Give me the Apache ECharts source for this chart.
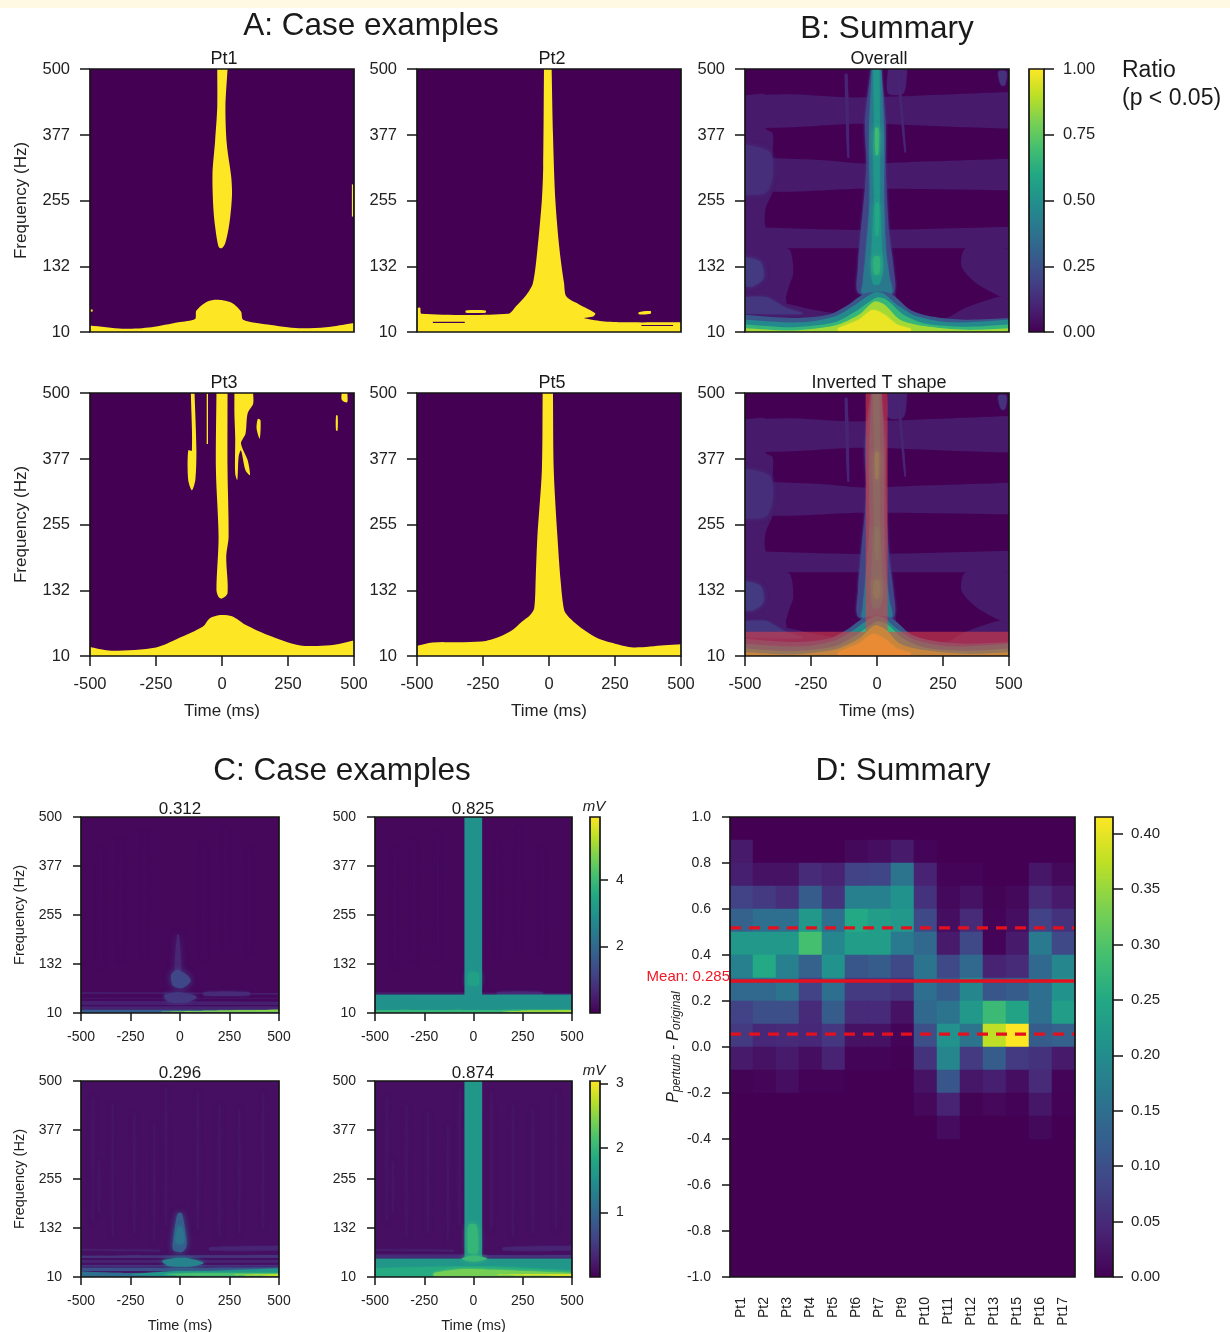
<!DOCTYPE html>
<html><head><meta charset="utf-8">
<script src="https://cdn.jsdelivr.net/npm/echarts@6/dist/echarts.min.js"></script>
<style>html,body{margin:0;padding:0;background:#fff}#c{width:1230px;height:1332px;filter:blur(.45px)}</style>
</head><body><div id="c"></div>
<script>
/* ---------- tick labels and categories ---------- */
const freqTicks = [10, 132, 255, 377, 500];
const ratioTicks = [0, 0.25, 0.5, 0.75, 1];
const patients = ['Pt1','Pt2','Pt3','Pt4','Pt5','Pt6','Pt7','Pt9','Pt10','Pt11','Pt12','Pt13','Pt15','Pt16','Pt17'];
const diffBins = ['-1.0','-0.9','-0.8','-0.7','-0.6','-0.5','-0.4','-0.3','-0.2','-0.1','0.0','0.1','0.2','0.3','0.4','0.5','0.6','0.7','0.8','0.9'];
const meanLine = 0.287, upperLine = 0.518, lowerLine = 0.056;

/* ---------- panel D cells: row name = lower edge of the bin ---------- */
const rowP08 = [.03,0,0,0,0,.01,.015,.03,.005,0,0,0,0,0,0];
const rowP07 = [.035,.02,.02,.05,.04,.08,.085,.16,.04,.005,.005,0,0,.025,.01];
const rowP06 = [.08,.07,.055,.12,.06,.18,.18,.21,.06,.01,.02,.003,.01,.05,.03];
const rowP05 = [.13,.15,.15,.22,.15,.25,.23,.22,.09,.015,.05,.005,.015,.08,.06];
const rowP04 = [.22,.22,.22,.29,.19,.23,.23,.17,.14,.03,.09,.005,.03,.17,.09];
const rowP03 = [.18,.25,.18,.13,.21,.11,.12,.09,.16,.09,.14,.04,.05,.14,.19];
const rowP02 = [.14,.14,.16,.08,.15,.07,.07,.06,.15,.12,.19,.11,.12,.15,.21];
const rowP01 = [.08,.1,.1,.05,.12,.05,.05,.02,.14,.16,.22,.28,.24,.15,.23];
const rowP00 = [.07,.045,.05,.045,.065,.02,.02,.005,.1,.21,.16,.375,.415,.12,.13];
const rowM01 = [.03,.02,.03,.015,.04,.005,.005,.001,.06,.19,.07,.12,.07,.06,.03];
const rowM02 = [.003,.006,.015,.002,.002,0,0,0,.02,.11,.025,.035,.015,.05,.005];
const rowM03 = [0,0,0,0,0,0,0,0,.008,.04,.003,.008,.002,.025,.002];
const rowM04 = [0,0,0,0,0,0,0,0,0,.012,0,0,0,.01,0];
const diffRows = {'0.8':rowP08,'0.7':rowP07,'0.6':rowP06,'0.5':rowP05,'0.4':rowP04,'0.3':rowP03,'0.2':rowP02,'0.1':rowP01,'0.0':rowP00,'-0.1':rowM01,'-0.2':rowM02,'-0.3':rowM03,'-0.4':rowM04};

/* ---------- panel A significant regions, [ms, Hz] ---------- */
const pt1Stripe = [[-18,500],[-18,429],[-26,367],[-36,305],[-33,243],[-26,206],[-13,169],[-1,166],[12,175],[26,206],[35,243],[38,270],[35,299],[18,361],[13,429],[21,500]];
const pt1Bump = [[-500,22],[-376,16],[-267,19],[-165,28],[-102,34],[-97,50],[-55,67],[-13,70],[38,64],[72,48],[80,33],[173,24],[292,17],[393,19],[500,27],[500,10],[-500,10]];
const pt1Speck = [[-500,52],[-490,52],[-490,48],[-500,48]];
const pt1Edge = [[492,285],[497,285],[497,225],[492,225]];
const pt2Body = [[-500,10],[-500,55],[-488,55],[-483,44],[-154,44],[-125,58],[-86,79],[-61,101],[-44,163],[-27,256],[-22,317],[-19,500],[10,500],[15,379],[24,256],[40,163],[57,101],[66,76],[116,61],[175,45],[167,39],[133,36],[201,30],[285,28],[500,28],[500,10]];
const pt2Holes = [[[-440,29],[-319,29],[-319,27],[-440,27]],[[350,23],[470,23],[470,21],[350,21]]];
const pt2Specks = [[[-315,50],[-240,50],[-240,46],[-315,46]],[[340,47],[385,49],[385,44],[340,43]]];
const pt3Stripe = [[-21,500],[-23,356],[-13,232],[-21,133],[-13,120],[-1,117],[21,127],[16,195],[25,232],[21,356],[21,500]];
const pt3Left = [[-118,500],[-114,393],[-128,393],[-128,338],[-114,319],[-101,338],[-97,393],[-104,500]];
const pt3Thin = [[-58,499],[-53,499],[-53,405],[-58,405]];
const pt3Blob = [[47,500],[118,500],[118,480],[97,462],[89,424],[72,406],[97,375],[106,347],[89,356],[72,393],[63,381],[58,338],[50,350],[50,418],[47,462]];
const pt3Small = [[131,434],[136,452],[146,449],[143,415]];
const pt3Far = [[432,458],[438,458],[438,430],[432,430]];
const pt3Corner = [[453,500],[475,500],[475,483],[465,483],[453,488]];
const pt3Bump = [[-500,27],[-419,20],[-250,26],[-165,43],[-72,65],[-47,80],[-13,86],[38,84],[89,68],[173,49],[292,30],[410,30],[500,39],[500,10],[-500,10]];
const pt5Body = [[-500,10],[-500,29],[-441,35],[-255,37],[-188,46],[-140,58],[-103,74],[-72,86],[-56,99],[-50,160],[-44,232],[-27,356],[-24,500],[15,500],[18,356],[32,232],[44,150],[57,96],[72,84],[100,71],[140,56],[184,43],[250,33],[319,26],[437,30],[500,32],[500,10]];

/* ---------- panel B ratio contours, [ms, Hz] ---------- */
const sumBand1 = [[-500,451],[-317,453],[-82,447],[500,457],[500,389],[300,392],[-56,398],[-300,392],[-500,389]];
const sumBand2 = [[-500,336],[-200,330],[-56,324],[200,328],[500,333],[500,274],[-56,277],[-300,272],[-500,271]];
const sumBand3 = [[-500,206],[-56,200],[500,206],[500,166],[-500,166]];
const sumLeft = [[-500,451],[-420,451],[-422,389],[-395,380],[-395,336],[-382,300],[-395,271],[-422,240],[-422,206],[-380,170],[-330,163],[-317,120],[-330,100],[-345,75],[-345,60],[-500,60]];
const sumRight = [[336,166],[500,166],[500,70],[467,76],[376,101],[320,132]];
const sumLow = [[-500,85],[-345,63],[-147,45],[-69,60],[-56,85],[-43,100],[62,100],[75,70],[127,45],[258,36],[336,55],[467,76],[500,70],[500,10],[-500,10]];
const sumLeftBlue = [[-500,360],[-405,345],[-395,300],[-420,270],[-500,265]];
const sumLeftBlob = [[-500,150],[-440,140],[-430,110],[-470,95],[-500,95]];
const sumLowBlue = [[-500,75],[-420,75],[-345,55],[-280,44],[-500,44]];
const sumWedge = [[42,500],[114,500],[100,455],[42,455]];
const sumCorner = [[460,495],[490,495],[485,470],[470,470]];
const sumStreakA = [[-122,490],[-112,490],[-105,335],[-112,335]];
const sumStreakB = [[77,490],[85,490],[110,345],[104,345]];
const cone25 = [[-500,42],[-317,36],[-186,42],[-108,61],[-43,82],[49,82],[127,51],[206,39],[336,33],[500,36],[500,10],[-500,10]];
const cone50 = [[-500,33],[-291,28],[-160,39],[-82,61],[-10,84],[23,82],[75,61],[153,39],[284,28],[500,33],[500,10],[-500,10]];
const cone70 = [[-500,24],[-317,19],[-160,28],[-82,48],[-3,74],[36,70],[101,42],[180,26],[336,20],[500,24],[500,10],[-500,10]];
const cone85 = [[-500,17],[-317,13],[-160,22],[-69,42],[-10,67],[29,61],[88,33],[180,21],[336,14],[500,17],[500,10],[-500,10]];
const cone95 = [[-147,17],[-69,33],[-16,51],[29,42],[75,24],[127,16],[127,12],[-147,12]];
const ridgeOuter = [[-23,500],[-46,398],[-40,317],[-62,194],[-72,132],[-69,82],[62,82],[62,132],[46,194],[33,317],[33,398],[16,500]];
const ridgeMid = [[-19,500],[-30,379],[-28,256],[-44,150],[-54,100],[-56,82],[55,82],[47,113],[34,163],[27,256],[27,379],[16,500]];
const ridgeInner = [[-14,500],[-11,390],[-14,330],[-11,250],[-20,170],[-22,125],[-14,100],[9,100],[22,125],[18,170],[11,250],[11,390],[9,500]];
const ridgeHighA = [[-7,390],[-5,340],[4,340],[6,390]];
const ridgeHighB = [[-7,250],[-5,190],[5,190],[7,250]];
const ridgeHighC = [[-12,150],[-10,118],[8,118],[10,150]];
const invertedT = [[-43,500],[40,500],[40,55],[500,55],[500,10],[-500,10],[-500,55],[-43,55]];

/* ---------- panel C amplitude regions, [ms, Hz] ---------- */
const c1BandA = [[-500,62],[500,60],[500,56],[-500,58]];
const c1BandB = [[-500,48],[500,48],[500,45],[-500,45]];
const c1BandC = [[-500,40],[500,38],[500,30],[-500,30]];
const c1BandD = [[-500,26],[500,26],[500,20],[-500,20]];
const c1Floor = [[-500,18],[500,18],[500,10],[-500,10]];
const c1Right = [[-100,13],[500,13],[500,18],[220,16]];
const c1Rise = [[120,62],[350,62],[350,54],[120,54]];
const c1Blob = [[-45,105],[-15,118],[35,105],[55,90],[10,72],[-35,78]];
const c1Plume = [[-25,115],[-15,205],[-5,205],[5,115]];
const c1Lower = [[-80,55],[0,62],[85,50],[30,36],[-60,38]];
const tC2 = [[-46,500],[44,500],[44,56],[500,56],[500,10],[-500,10],[-500,56],[-46,56]];
const c2Blob = [[-25,110],[25,110],[25,80],[-25,80]];
const c2Floor = [[-500,17],[500,18],[500,11],[-500,11]];
const c2Right = [[150,13],[500,12],[500,17],[300,16]];
const c3BandA = [[-500,80],[-100,78],[-100,74],[-500,76]];
const c3BandA2 = [[150,84],[500,88],[500,76],[150,76]];
const c3BandB = [[-500,63],[500,65],[500,58],[-500,58]];
const c3BandC = [[-500,52],[500,52],[500,46],[-500,46]];
const c3BandD = [[-500,40],[500,40],[500,36],[-500,36]];
const c3BandE = [[-500,33],[500,34],[500,25],[-500,25]];
const c3Floor = [[-500,24],[-250,20],[500,18],[500,10],[-500,10]];
const c3Wedge = [[-250,15],[-60,24],[150,25],[500,31],[500,14]];
const c3Bright = [[-80,17],[100,20],[500,20],[500,13],[0,14]];
const c3Tip = [[250,15],[500,17],[500,13]];
const c3Plume = [[-12,169],[10,169],[30,110],[32,85],[8,72],[-35,78],[-32,110]];
const c3PlumeCore = [[-12,135],[10,135],[20,95],[-22,95]];
const c3Lower = [[-90,50],[-30,57],[40,57],[120,45],[50,36],[-60,38]];
const tC4 = [[-46,500],[44,500],[44,56],[500,56],[500,10],[-500,10],[-500,56],[-46,56]];
const c4Base = [[-500,32],[-100,36],[100,36],[500,26],[500,10],[-500,10]];
const c4Wedge = [[-200,20],[-50,30],[100,28],[500,20],[500,12],[-200,12]];
const c4Line = [[100,15],[500,13],[500,17],[300,17]];
const c4Stripe = [[-25,140],[15,140],[25,85],[20,70],[-25,70],[-30,85]];
const c4Junction = [[-60,56],[0,64],[70,56],[0,48]];
const c4BandA = [[-500,66],[-46,66],[-46,62],[-500,62]];
const streaksC1 = [[-400,130,420],[-300,140,440],[-180,150,460],[120,150,430],[230,170,470],[350,160,420]];
const streaksC3 = [[-440,150,460],[-410,170,300],[-340,110,440],[-230,120,420],[-130,100,390],[-70,140,480],[90,130,470],[200,110,440],[300,120,430],[420,130,470]];

/* ---------- colours ---------- */
const viridisStops = ['#440154','#482475','#414487','#355f8d','#2a788e','#21918c','#22a884','#44bf70','#7ad151','#bddf26','#fde725'];
function viridis(v){
  const x = Math.max(0, Math.min(1, v)) * 10, i = Math.min(9, Math.floor(x)), f = x - i;
  const h = c => [1,3,5].map(k => parseInt(c.substr(k,2),16));
  const a = h(viridisStops[i]), b = h(viridisStops[i+1]);
  return 'rgb(' + a.map((q,k) => Math.round(q + (b[k]-q)*f)).join(',') + ')';
}
const gradient = () => new echarts.graphic.LinearGradient(0,1,0,0, viridisStops.map((c,i)=>({offset:i/10,color:c})));
const INK = '#222', FRAME = '#141414', YEL = '#fde725', DARK = '#440154';
const FONT = 'Liberation Sans';

const option = {animation:false, backgroundColor:'#fff', grid:[], xAxis:[], yAxis:[], series:[], title:[], visualMap:[],
  graphic:[{type:'rect',shape:{x:0,y:0,width:1230,height:8},style:{fill:'#fff8e3'},silent:true}]};

function addTitle(text,x,y,size,opt){
  option.title.push({text,left:x,top:y,padding:0,textAlign:(opt&&opt.align)||'center',textVerticalAlign:'middle',
    textStyle:{fontFamily:FONT,fontWeight:'normal',fontSize:size,color:(opt&&opt.color)||'#1a1a1a',fontStyle:(opt&&opt.style)||'normal'}});
}
function addGrid(r,bg){
  option.grid.push({left:r[0],top:r[1],width:r[2]-r[0],height:r[3]-r[1],show:true,backgroundColor:bg||'transparent',borderWidth:0,containLabel:false,outerBoundsMode:'none'});
  return option.grid.length-1;
}
function frameSeries(g,xi,yi,xr,yr){
  return {type:'custom',coordinateSystem:'cartesian2d',xAxisIndex:xi,yAxisIndex:yi,clip:false,silent:true,z:6,data:[[xr[0],yr[0]]],
    renderItem:(p,api)=>({type:'polygon',shape:{points:[[xr[0],yr[0]],[xr[1],yr[0]],[xr[1],yr[1]],[xr[0],yr[1]]].map(q=>api.coord(q))},
      style:{fill:'none',stroke:FRAME,lineWidth:1.7}})};
}
/* points on the panel border stay sharp corners when an outline is smoothed */
const onEdge = q => Math.abs(q[0])===500 || q[1]===10 || q[1]===500;
function layerSeries(xi,yi,layers){
  return {type:'custom',coordinateSystem:'cartesian2d',xAxisIndex:xi,yAxisIndex:yi,clip:true,silent:true,z:2,
    data:layers.map(L=>L.pts[0]),
    renderItem:(p,api)=>{const L=layers[p.dataIndex];
      const pts = L.smooth ? L.pts.flatMap(q=>onEdge(q)?[q,q]:[q]) : L.pts;
      return {type:'polygon',shape:{points:pts.map(q=>api.coord(q)),smooth:L.smooth||0},
        style:{fill:L.fill,shadowBlur:L.soft||0,shadowColor:L.fill}};}};
}
function addPanel(cfg){
  const g = addGrid(cfg.rect,cfg.bg);
  const c = cfg.text;
  const lab = {color:INK,fontFamily:FONT,fontSize:c.tick};
  option.xAxis.push({type:'value',gridIndex:g,min:-500,max:500,interval:250,splitLine:{show:false},
    axisLine:{show:false,onZero:false},
    axisTick:{show:!!cfg.xLabels,length:c.tickLen,lineStyle:{color:FRAME,width:1.5}},
    axisLabel:{show:!!cfg.xLabels,margin:c.xMargin,...lab},
    name:cfg.xName?'Time (ms)':'',nameLocation:'middle',nameGap:c.xGap,nameTextStyle:{color:INK,fontFamily:FONT,fontSize:c.name}});
  option.yAxis.push({type:'value',gridIndex:g,min:10,max:500,splitLine:{show:false},
    axisLine:{show:false,onZero:false},
    axisTick:{show:true,length:c.tickLen,lineStyle:{color:FRAME,width:1.5},customValues:freqTicks},
    axisLabel:{margin:c.yMargin,customValues:freqTicks,padding:[c.yShift,0,0,0],...lab},
    name:cfg.yName?'Frequency (Hz)':'',nameLocation:'middle',nameRotate:90,nameGap:c.yGap,nameTextStyle:{color:INK,fontFamily:FONT,fontSize:c.name}});
  const idx = option.xAxis.length-1;
  option.series.push(layerSeries(idx,idx,cfg.layers));
  option.series.push(frameSeries(g,idx,idx,[-500,500],[10,500]));
}
function addColorbar(r,max,ticks,fmt,c){
  const g = addGrid(r);
  option.xAxis.push({type:'value',gridIndex:g,min:0,max:1,show:false});
  option.yAxis.push({type:'value',gridIndex:g,min:0,max:max,position:'right',splitLine:{show:false},
    axisLine:{show:false,onZero:false},
    axisTick:{show:true,length:c.tickLen,lineStyle:{color:FRAME,width:1.5},customValues:ticks},
    axisLabel:{margin:c.margin,customValues:ticks,formatter:fmt,padding:[3,0,0,0],color:INK,fontFamily:FONT,fontSize:c.tick}});
  const idx = option.xAxis.length-1;
  option.series.push(layerSeries(idx,idx,[{pts:[[0,0],[1,0],[1,max],[0,max]],fill:gradient()}]));
  option.series.push(frameSeries(g,idx,idx,[0,1],[0,max]));
}

/* ---------- layer lists ---------- */
const SM = .28;
const Y = pts => ({pts,fill:YEL,smooth:SM});
const Ys = pts => ({pts,fill:YEL});
const D = pts => ({pts,fill:DARK});
const V = (pts,v,soft) => ({pts,fill:viridis(v),soft,smooth:SM});
const sharp = L => ({...L,smooth:0});
const A_TXT = {tick:16.5,name:17,tickLen:10,xMargin:20,xGap:47,yMargin:20,yGap:60,yShift:4};
const C_TXT = {tick:14,name:14.5,tickLen:8,xMargin:17,xGap:41,yMargin:19,yGap:54,yShift:3};

const pt1Layers = [pt1Stripe,pt1Bump].map(Y).concat([pt1Speck,pt1Edge].map(Ys));
const pt2Layers = [pt2Body].map(Y).concat(pt2Specks.map(Y),pt2Holes.map(D));
const pt3Layers = [pt3Stripe,pt3Left,pt3Blob,pt3Small,pt3Far,pt3Corner,pt3Bump].map(Y).concat([pt3Thin].map(Ys));
const pt5Layers = [pt5Body].map(Y);
const sumLayers = [
  V(sumBand1,.07),V(sumBand2,.07),V(sumBand3,.07),V(sumLeft,.07),V(sumRight,.07),V(sumLow,.07),
  V(sumLeftBlue,.13,5),V(sumLeftBlob,.17,5),V(sumLowBlue,.16,3),V(sumWedge,.09,2),V(sumCorner,.14,2),
  V(sumStreakA,.1,1),V(sumStreakB,.1,1),
  V(ridgeOuter,.2,3),V(ridgeMid,.4,2),V(ridgeInner,.52,2),
  V(ridgeHighA,.68,6),V(ridgeHighB,.6,6),V(ridgeHighC,.64,6),
  V(cone25,.27),V(cone50,.47),V(cone70,.66),V(cone85,.86),V(cone95,.97,2)];

const mv1 = (v)=>v/5.9, mv2 = (v)=>v/3.04;
const W1 = (pts,v,s)=>V(pts,mv1(v),s), W2 = (pts,v,s)=>V(pts,mv2(v),s);
const streak = (arr,fn,v)=>arr.map(s=>fn([[s[0]-4,s[2]],[s[0]+4,s[2]],[s[0]+4,s[1]],[s[0]-4,s[1]]],v,4));
const c1Shared = [W1(c1BandA,.45,1),W1(c1BandB,.3,1),W1(c1BandC,.5,1),W1(c1BandD,.55,1)];
const c1Layers = [...streak(streaksC1,W1,.16),...c1Shared,W1(c1Rise,.7,3),W1(c1Plume,.6,6),W1(c1Lower,.95,5),W1(c1Blob,1.25,7),W1(c1Floor,1.7,1),W1(c1Right,4.8,1)];
const c2Layers = [...streak(streaksC1,W1,.16),...c1Shared,W1(c1Rise,.7,3),sharp(W1(tC2,2.95)),W1(c2Blob,3.3,6),W1(c2Floor,3.9,1),W1(c2Right,5.1,1)];
const c3Shared = [W2(c3BandA,.25,2),W2(c3BandA2,.3,2),W2(c3BandB,.45,1),W2(c3BandC,.3,1),W2(c3BandD,.45,1)];
const c3Layers = [...streak(streaksC3,W2,.17),...c3Shared,W2(c3BandE,.75,1),W2(c3Plume,.9,6),W2(c3PlumeCore,1.15,5),W2(c3Lower,1.35,5),W2(c3Floor,1.1,1),W2(c3Wedge,1.6,2),W2(c3Bright,2.15,2),W2(c3Tip,2.8,1)];
const c4Layers = [...streak(streaksC3,W2,.17),...c3Shared,W2(c4BandA,.35,1),sharp(W2(tC4,1.6)),W2(c4Base,1.85,2),W2(c4Stripe,2,6),W2(c4Junction,2.05,4),W2(c4Wedge,2.4,3),W2(c4Line,2.9,1)];

/* ---------- panels ---------- */
addPanel({rect:[90,69,354,332],bg:DARK,layers:pt1Layers,yName:true,text:A_TXT});
addPanel({rect:[417,69,681,332],bg:DARK,layers:pt2Layers,text:A_TXT});
addPanel({rect:[745,69,1009,332],bg:DARK,layers:sumLayers,text:A_TXT});
addPanel({rect:[90,393,354,656],bg:DARK,layers:pt3Layers,yName:true,xLabels:true,xName:true,text:A_TXT});
addPanel({rect:[417,393,681,656],bg:DARK,layers:pt5Layers,xLabels:true,xName:true,text:A_TXT});
addPanel({rect:[745,393,1009,656],bg:DARK,layers:sumLayers.concat([{pts:invertedT,fill:'rgba(232,66,66,.55)'}]),xLabels:true,xName:true,text:A_TXT});
addColorbar([1029,69,1044,332],1,ratioTicks,v=>v.toFixed(2),{tickLen:10,margin:19,tick:16.5});

addPanel({rect:[81,817,279,1013],bg:viridis(.02),layers:c1Layers,xLabels:true,yName:true,text:C_TXT});
addPanel({rect:[375,817,572,1013],bg:viridis(.02),layers:c2Layers,xLabels:true,text:C_TXT});
addColorbar([590,817,600,1013],5.9,[2,4],v=>String(v),{tickLen:8,margin:16,tick:14});
addPanel({rect:[81,1081,279,1277],bg:viridis(.04),layers:c3Layers,xLabels:true,xName:true,yName:true,text:C_TXT});
addPanel({rect:[375,1081,572,1277],bg:viridis(.04),layers:c4Layers,xLabels:true,xName:true,text:C_TXT});
addColorbar([590,1081,600,1277],3.04,[1,2,3],v=>String(v),{tickLen:8,margin:16,tick:14});

/* panel D: native heatmap on category axes, plus value axes for the scale and the lines */
(function(){
  const g = addGrid([730,817,1075,1277],DARK);
  const xC = option.xAxis.length;
  option.xAxis.push({type:'category',gridIndex:g,data:patients,splitLine:{show:false},
    axisLine:{show:false,onZero:false},axisTick:{alignWithLabel:true,length:8,lineStyle:{color:FRAME,width:1.5}},
    axisLabel:{rotate:90,margin:20,interval:0,color:INK,fontFamily:FONT,fontSize:14}});
  option.xAxis.push({type:'value',gridIndex:g,min:0,max:1,show:false});
  const yC = option.yAxis.length;
  option.yAxis.push({type:'category',gridIndex:g,data:diffBins,show:false});
  option.yAxis.push({type:'value',gridIndex:g,position:'left',min:-1,max:1,interval:.2,splitLine:{show:false},
    axisLine:{show:false,onZero:false},axisTick:{show:true,length:8,lineStyle:{color:FRAME,width:1.5}},
    axisLabel:{margin:19,padding:[3,0,0,0],color:INK,fontFamily:FONT,fontSize:14,formatter:v=>(Math.abs(v)<1e-9?0:v).toFixed(1)},
    name:'{i|P}{s|perturb}{n| - }{i|P}{s|original}',nameLocation:'middle',nameRotate:90,nameGap:44,
    nameTextStyle:{rich:{i:{fontStyle:'italic',fontSize:16,fontFamily:FONT,color:INK},
      s:{fontStyle:'italic',fontSize:12,fontFamily:FONT,color:INK,verticalAlign:'bottom',padding:[6,0,0,0]},
      n:{fontSize:15,fontFamily:FONT,color:INK}}}});
  const cells = [];
  Object.keys(diffRows).forEach(bin=>diffRows[bin].forEach((v,c)=>cells.push([c,bin,v])));
  option.series.push({type:'heatmap',xAxisIndex:xC,yAxisIndex:yC,data:cells,silent:true,z:2,itemStyle:{borderWidth:0}});
  option.visualMap.push({show:false,min:0,max:.415,seriesIndex:option.series.length-1,dimension:2,inRange:{color:viridisStops}});
  const line = (v,dash)=>({type:'line',xAxisIndex:xC+1,yAxisIndex:yC+1,data:[[0,v],[1,v]],symbol:'none',silent:true,z:4,
    lineStyle:{color:'#e3101f',width:3.4,type:dash?[11,8]:'solid',cap:'butt'}});
  option.series.push(line(upperLine,true),line(meanLine,false),line(lowerLine,true));
  option.series.push(frameSeries(g,xC+1,yC+1,[0,1],[-1,1]));
})();
addColorbar([1095,817,1113,1277],.415,[0,.05,.1,.15,.2,.25,.3,.35,.4],v=>v.toFixed(2),{tickLen:10,margin:18,tick:15});

/* ---------- text ---------- */
addTitle('A: Case examples',371,26,31.5);
addTitle('B: Summary',887,29,31.5);
addTitle('C: Case examples',342,771,31.5);
addTitle('D: Summary',903,771,31.5);
[['Pt1',224,59],['Pt2',552,59],['Overall',879,59],['Pt3',224,383],['Pt5',552,383],['Inverted T shape',879,383]].forEach(t=>addTitle(t[0],t[1],t[2],18));
[['0.312',180,809],['0.825',473,809],['0.296',180,1073],['0.874',473,1073]].forEach(t=>addTitle(t[0],t[1],t[2],17));
addTitle('Ratio',1122,71,23,{align:'left'});
addTitle('(p < 0.05)',1122,99,23,{align:'left'});
addTitle('mV',594,807,15,{style:'italic'});
addTitle('mV',594,1071,15,{style:'italic'});
addTitle('Mean: 0.285',730,977,15,{align:'right',color:'#f01824'});

const chart = echarts.init(document.getElementById('c'),null,{renderer:'canvas',width:1230,height:1332});
chart.setOption(option);
</script></body></html>
